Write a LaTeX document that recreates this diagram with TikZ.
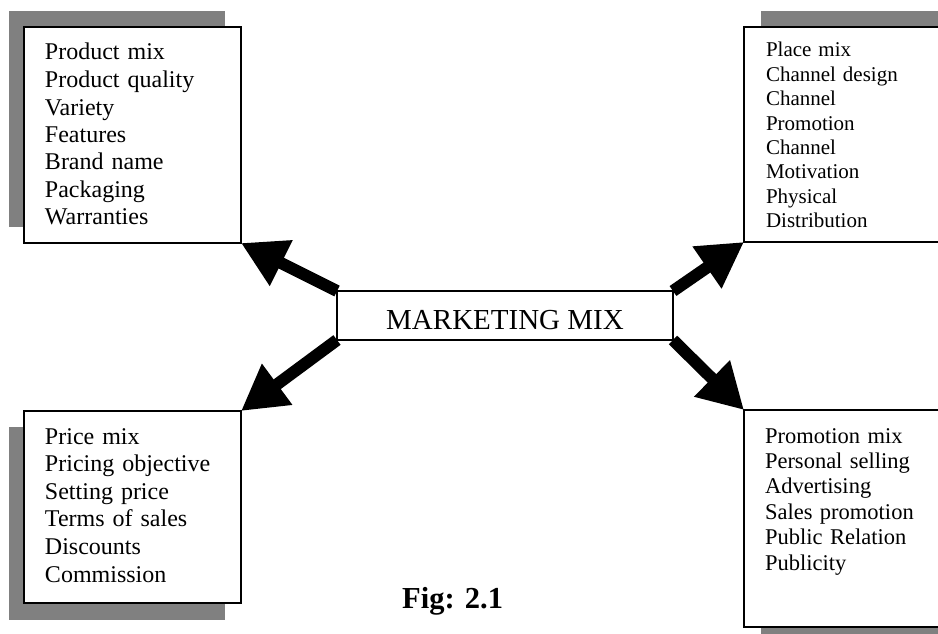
\documentclass[tikz,border=0pt]{standalone}
\usepackage{fontspec}
\setmainfont{Liberation Serif}
\usetikzlibrary{arrows.meta}
\tikzset{
  box/.style={draw=black, line width=1.6pt, fill=white, inner sep=0pt, outer sep=0pt},
  shadowfill/.style={fill=black!50},
  bigarrow/.style={line width=12pt, line cap=butt, -{Triangle[length=45pt,width=48pt]}},
  list/.style={anchor=base west, inner sep=0pt, outer sep=0pt, align=left, text width=190pt}
}
\begin{document}
\begin{tikzpicture}[x=1pt,y=-1pt]
\useasboundingbox (0,0) rectangle (938,634);
% shadows
\fill[shadowfill] (9,11) rectangle (225,227);
\fill[shadowfill] (761,11) rectangle (978,226);
\fill[shadowfill] (9,427) rectangle (225,620);
\fill[shadowfill] (761,426) rectangle (978,643);
% boxes
\node[box, minimum width=217pt, minimum height=216pt] (tl) at (132.5,135) {};
\node[box, minimum width=217pt, minimum height=215pt] (tr) at (852.5,134.5) {};
\node[box, minimum width=217pt, minimum height=192pt] (bl) at (132.5,507) {};
\node[box, minimum width=217pt, minimum height=217pt] (br) at (852.5,518.5) {};
% texts
\node[list, font=\fontsize{24}{27.5}\selectfont] (tltext) at (45,60)
  {Product mix\\Product quality\\Variety\\Features\\Brand name\\Packaging\\Warranties};
\node[list, font=\fontsize{21}{24.4}\selectfont] (trtext) at (766,57)
  {Place mix\\Channel design\\Channel\\Promotion\\Channel\\Motivation\\Physical\\Distribution};
\node[list, font=\fontsize{24}{27.6}\selectfont] (bltext) at (45,444)
  {Price mix\\Pricing objective\\Setting price\\Terms of sales\\Discounts\\Commission};
\node[list, font=\fontsize{22.5}{25.4}\selectfont] (brtext) at (765,443)
  {Promotion mix\\Personal selling\\Advertising\\Sales promotion\\Public Relation\\Publicity};
% centre box (coordinates for arrows)
\path node[box, draw=none, fill=none, minimum width=336pt, minimum height=49pt] (mm) at (505,315.5) {};
% arrows
\draw[bigarrow] (mm.north west) -- (tl.south east);
\draw[bigarrow] (mm.north east) -- (tr.south west);
\draw[bigarrow] (mm.south west) -- (bl.north east);
\draw[bigarrow] (mm.south east) -- (br.north west);
% centre box drawn on top
\node[box, minimum width=336pt, minimum height=49pt] (mmbox) at (505,315.5) {};
\node[anchor=base, inner sep=0pt, font=\fontsize{29}{32}\selectfont] (mmtext) at (505,329) {MARKETING MIX};
% caption
\node[anchor=base west, inner sep=0pt, font=\fontsize{30.5}{34}\selectfont\bfseries] (fig) at (402,608) {Fig: 2.1};
\end{tikzpicture}
\end{document}
